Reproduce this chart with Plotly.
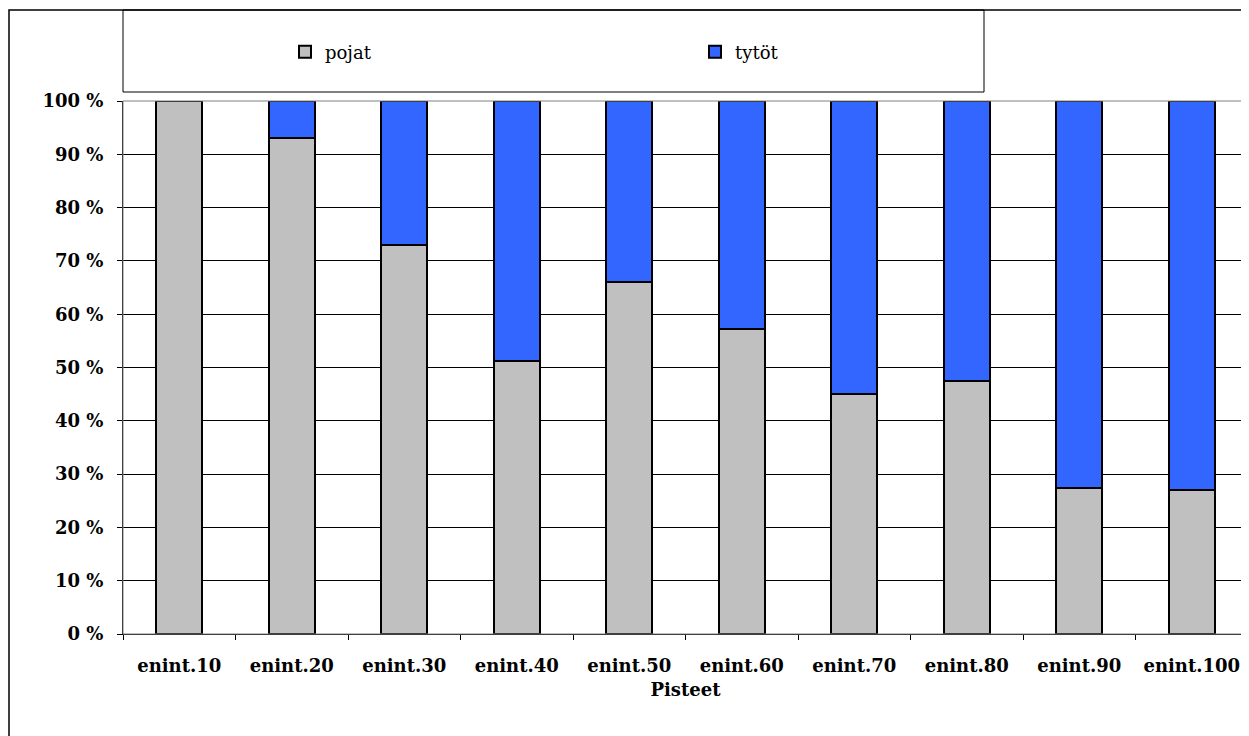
import plotly.graph_objects as go

categories = ["enint.10", "enint.20", "enint.30", "enint.40", "enint.50",
              "enint.60", "enint.70", "enint.80", "enint.90", "enint.100"]
pojat = [100, 93, 73, 51.2, 66, 57.2, 45, 47.4, 27.4, 27]
tytot = [0, 7, 27, 48.8, 34, 42.8, 55, 52.6, 72.6, 73]
y_ticks = [0, 10, 20, 30, 40, 50, 60, 70, 80, 90, 100]
y_labels = [f"{v} %" for v in y_ticks]

OFF = 8  # page body margin
W, H = 1241, 728
L, R, T, B = 115, 1, 93, 102
pw = W - L - R
ph = H - T - B

def px(x):
    return (x - OFF - L) / pw

def py(y):
    return (H - B - (y - OFF)) / ph

fig = go.Figure()
fig.add_trace(go.Bar(x=categories, y=pojat, name="pojat", showlegend=True,
                     marker=dict(color="#C0C0C0", line=dict(color="black", width=2)),
                     legend="legend"))
fig.add_trace(go.Bar(x=categories, y=tytot, name="tytöt", showlegend=True,
                     marker=dict(color="#3366FF", line=dict(color="black", width=2)),
                     legend="legend2"))

serif = "DejaVu Serif"
fig.update_layout(
    width=W, height=H,
    margin=dict(l=L, r=R, t=T, b=B),
    barmode="stack", bargap=0.59,
    showlegend=True,
    plot_bgcolor="white", paper_bgcolor="white",
    font=dict(family=serif, color="black"),
    legend=dict(x=px(285), y=py(52), xanchor="left", yanchor="middle",
                font=dict(family=serif, size=18, color="black"),
                bgcolor="rgba(0,0,0,0)", itemwidth=30),
    legend2=dict(x=px(695), y=py(52), xanchor="left", yanchor="middle",
                 font=dict(family=serif, size=18, color="black"),
                 bgcolor="rgba(0,0,0,0)", itemwidth=30),
    xaxis=dict(type="category", tickson="boundaries", ticks="outside", ticklen=5,
               tickcolor="black", showline=True, linecolor="black", linewidth=1,
               ticklabelstandoff=15,
               tickfont=dict(family=serif, size=18, color="black", weight="bold"),
               showgrid=False,
               title=dict(text="<b>Pisteet</b>", font=dict(family=serif, size=18, color="black"),
                          standoff=8)),
    yaxis=dict(range=[0, 100], tickvals=y_ticks, ticktext=y_labels, ticks="outside",
               ticklen=5, tickcolor="black", showline=True, linecolor="black", linewidth=1,
               ticklabelstandoff=10,
               showgrid=True, gridcolor="black", gridwidth=1, zeroline=False,
               tickfont=dict(family=serif, size=18, color="black", weight="bold")),
    shapes=[
        dict(type="rect", xref="paper", yref="paper", x0=px(9), x1=px(1270),
             y0=py(770), y1=py(10), line=dict(color="black", width=1.5), layer="below"),
        dict(type="rect", xref="paper", yref="paper", x0=0, x1=px(984),
             y0=py(92), y1=py(10), line=dict(color="black", width=1)),
        dict(type="rect", xref="paper", yref="paper", x0=0, x1=1,
             y0=0, y1=1, line=dict(color="#808080", width=1)),
    ],
)

fig.write_html("out.html")
